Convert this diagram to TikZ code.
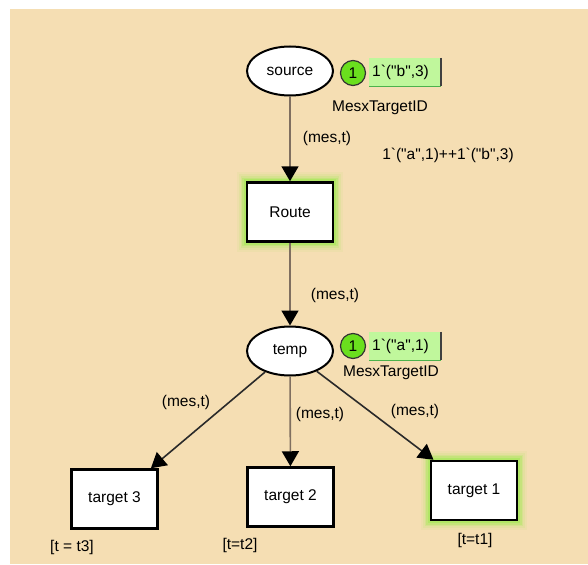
\documentclass[tikz,border=0pt]{standalone}
\usepackage{fontspec}
\newfontfamily\cpnfont{Liberation Sans}
\usetikzlibrary{arrows.meta,shapes.geometric}
\definecolor{bgbeige}{HTML}{F5DEB3}
\definecolor{arcgray}{HTML}{7F6F60}
\definecolor{arcdark}{HTML}{2A2A2A}
\definecolor{tokgreen}{HTML}{6ADF1E}
\definecolor{markgreen}{HTML}{C0F79C}
\definecolor{glowgreen}{HTML}{9FEA50}
\newcommand{\bqt}{\symbol{96}}
\pgfdeclarelayer{bglayer}
\pgfdeclarelayer{glowlayer}
\pgfsetlayers{bglayer,glowlayer,main}
\begin{document}
\begin{tikzpicture}[x=1pt,y=-1pt,
  font=\cpnfont\fontsize{15.5}{18}\selectfont,
  place/.style={ellipse, draw=black, line width=2pt, fill=white, minimum width=86pt, minimum height=49pt, inner sep=0pt},
  trans/.style={rectangle, draw=black, line width=2.5pt, fill=white, minimum width=86pt, minimum height=59pt, inner sep=0pt},
  token/.style={circle, draw=black!80, line width=1.2pt, fill=tokgreen, minimum size=25pt, inner sep=0pt},
  markbox/.style={rectangle, fill=markgreen, anchor=west, text width=66pt, align=left, inner xsep=3pt, minimum height=28pt},
  arcg/.style={draw=arcgray, line width=1.6pt, -{Triangle[length=15pt,width=17pt,color=black]}},
  arcd/.style={draw=arcdark, line width=1.6pt, -{Triangle[length=15pt,width=17pt,color=black]}},
  lbl/.style={inner sep=0pt}
]
\useasboundingbox (0,0) rectangle (588,564);
\begin{pgfonlayer}{bglayer}
  \fill[white] (0,0) rectangle (588,564);
  \fill[bgbeige] (10,9) rectangle (588,564);
\end{pgfonlayer}

% places
\node[place] (source) at (290,71) {source};
\node[place] (temp) at (290,351) {temp};
% transitions
\node[trans] (route) at (290,212) {Route};
\node[trans] (t3) at (114.5,499) {target 3};
\node[trans] (t2) at (290.5,497) {target 2};
\node[trans] (t1) at (474,490.5) {target 1};

% glows
\begin{pgfonlayer}{glowlayer}
  \foreach \w/\o in {18/0.08,14/0.12,10/0.2,7/0.3,4/0.5} {
    \draw[glowgreen, line width=\w pt, opacity=\o] (route.north west) rectangle (route.south east);
    \draw[glowgreen, line width=\w pt, opacity=\o] (t1.north west) rectangle (t1.south east);
  }
\end{pgfonlayer}

% tokens and markings
\node[token] (tok1) at (353,73) {1};
\node[markbox] (mk1) at (369,72) {1\bqt("b",3)};
\draw[black!75, line width=2pt] (mk1.north east) -- (mk1.south east);
\draw[green!40!gray, line width=0.8pt] (mk1.south west) -- (mk1.south east);
\node[token] (tok2) at (353,346) {1};
\node[markbox] (mk2) at (369,346) {1\bqt("a",1)};
\draw[black!75, line width=2pt] (mk2.north east) -- (mk2.south east);
\draw[green!40!gray, line width=0.8pt] (mk2.south west) -- (mk2.south east);

% color set labels
\node[lbl] (cs1) at (380,108) {MesxTargetID};
\node[lbl] (cs2) at (391,373) {MesxTargetID};
\node[lbl] (init) at (448,155) {1\bqt("a",1)++1\bqt("b",3)};

% arcs
\draw[arcg] (source) -- (route);
\draw[arcg] (route) -- (temp);
\draw[arcd] (temp) -- (t3);
\draw[arcg] (temp) -- (t2);
\draw[arcd] (temp) -- (t1);

% arc inscriptions
\node[lbl] (a1) at (327,138) {(mes,t)};
\node[lbl] (a2) at (335,295) {(mes,t)};
\node[lbl] (a3) at (186,402) {(mes,t)};
\node[lbl] (a4) at (320,414) {(mes,t)};
\node[lbl] (a5) at (415,411) {(mes,t)};

% guards
\node[lbl] (g3) at (72,547) {[t = t3]};
\node[lbl] (g2) at (240,545) {[t=t2]};
\node[lbl] (g1) at (475,540) {[t=t1]};
\end{tikzpicture}
\end{document}
